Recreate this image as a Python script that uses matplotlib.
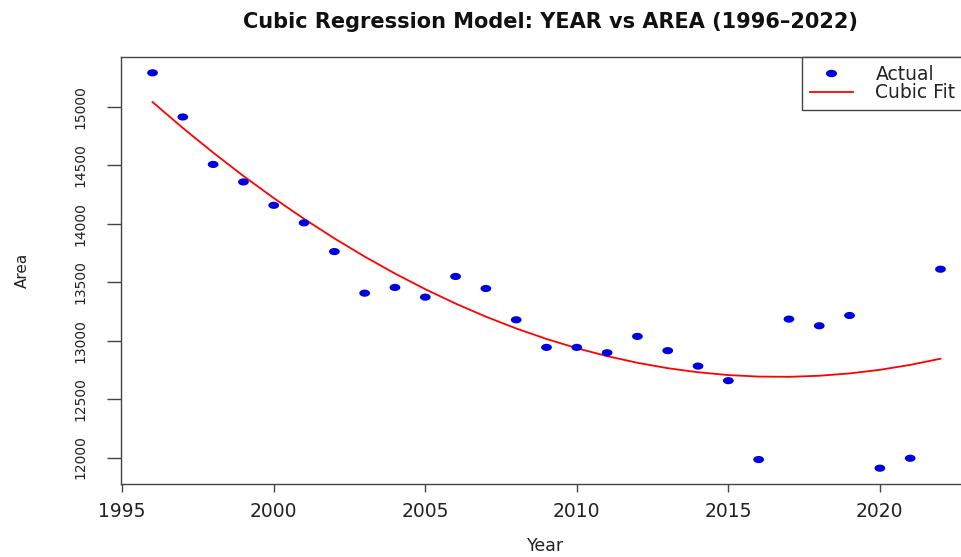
import numpy as np
import matplotlib
matplotlib.use("Agg")
import matplotlib.pyplot as plt
from matplotlib.path import Path
from matplotlib.lines import Line2D

# Yearly area observations
years = [1996, 1997, 1998, 1999, 2000, 2001, 2002, 2003, 2004, 2005, 2006,
         2007, 2008, 2009, 2010, 2011, 2012, 2013, 2014, 2015, 2016, 2017,
         2018, 2019, 2020, 2021, 2022]
area = [15293, 14915, 14509, 14359, 14159, 14009, 13763, 13407, 13456, 13373,
        13550, 13447, 13179, 12943, 12943, 12897, 13037, 12915, 12783, 12658,
        11983, 13185, 13128, 13216, 11909, 11994, 13612]

# Fitted values of the cubic model at each year
fit_area = [15043, 14821, 14610, 14410, 14221, 14043, 13876, 13720, 13575,
            13441, 13318, 13206, 13105, 13015, 12936, 12868, 12811, 12765,
            12730, 12706, 12693, 12691, 12700, 12720, 12751, 12793, 12846]

x_ticks = [1995, 2000, 2005, 2010, 2015, 2020]
y_ticks = [12000, 12500, 13000, 13500, 14000, 14500, 15000]

title = "Cubic Regression Model: YEAR vs AREA (1996\u20132022)"

# Slightly wide dot marker
t = np.linspace(0, 2 * np.pi, 40)
dot = Path(np.column_stack([1.5 * np.cos(t), np.sin(t)]), closed=True)

W, H = 961, 557
fig = plt.figure(figsize=(W / 100, H / 100), dpi=100)
fig.patch.set_facecolor("white")

left, right, bottom, top = 121, 972, 484, 57
ax = fig.add_axes([left / W, (H - bottom) / H, (right - left) / W, (bottom - top) / H])

ax.plot(years, fit_area, color="red", lw=1.3, zorder=2)
ax.scatter(years, area, marker=dot, s=60, color="#0000e0", edgecolors="none", zorder=3)

def pad(a, b):
    r = b - a
    return a - 0.04 * r, b + 0.04 * r

ax.set_xlim(*pad(min(years), max(years)))
ax.set_ylim(*pad(min(area), max(area)))

ax.set_xticks(x_ticks)
ax.set_xticklabels([str(v) for v in x_ticks])
ax.set_yticks(y_ticks)
ax.set_yticklabels([str(v) for v in y_ticks], rotation=90, va="center")

for s in ax.spines.values():
    s.set_color("#444444")
    s.set_linewidth(1.0)

ax.tick_params(axis="x", length=6, width=1, color="#444444", labelsize=13.5,
               labelcolor="#222222", pad=7)
ax.tick_params(axis="y", length=10, width=1, color="#444444", labelsize=10,
               labelcolor="#222222", pad=14)

fig.text(546 / W, 1 - 546 / H, "Year", ha="center", va="center", fontsize=12.5,
         color="#222222")
fig.text(22 / W, 1 - 270 / H, "Area", ha="center", va="center", rotation=90,
         fontsize=11, color="#222222")
fig.text(550 / W, 1 - 22 / H, title, ha="center", va="center", fontsize=15,
         fontweight="bold", color="#111111")

handles = [
    Line2D([], [], linestyle="none", marker=dot, markersize=8,
           markerfacecolor="#0000e0", markeredgecolor="none"),
    Line2D([], [], color="red", lw=1.3),
]
leg = ax.legend(handles, ["Actual", "Cubic Fit"], loc="upper right",
                bbox_to_anchor=((963 - left) / (right - left), 1.0),
                borderaxespad=0, fancybox=False, framealpha=1,
                edgecolor="#444444", fontsize=13.5, handlelength=2.3,
                handletextpad=1.2, borderpad=0.4, labelspacing=0.0)
leg.get_frame().set_linewidth(1.0)
for txt in leg.get_texts():
    txt.set_color("#222222")

fig.savefig("out.png", dpi=100, facecolor="white")
